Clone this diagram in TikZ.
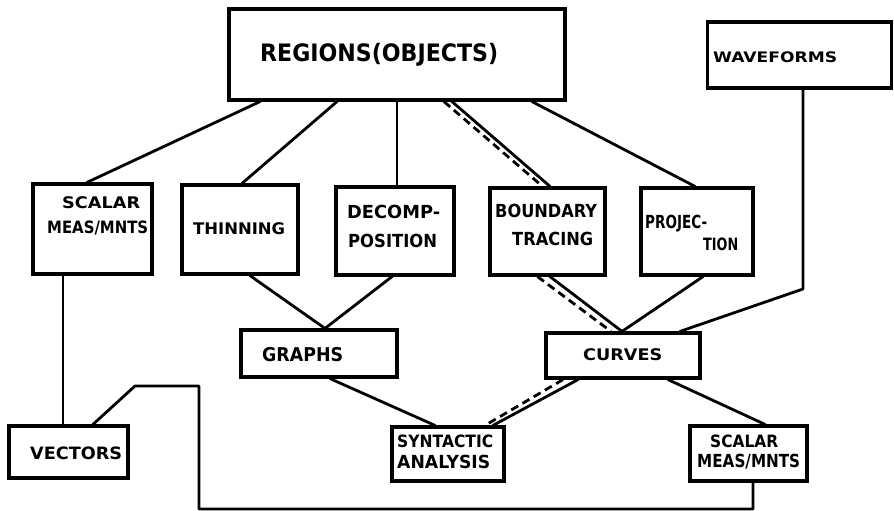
\documentclass[tikz,border=0pt]{standalone}
\usepackage{fontspec}
\setmainfont{DejaVu Sans}
\usepackage{graphicx}
\newcommand\hw[3]{{\fontsize{#2}{#2}\selectfont\bfseries\resizebox{#1}{\height}{#3}}}
\begin{document}
\begin{tikzpicture}[x=1pt,y=-1pt,
  box/.style={draw,line width=3.2pt,inner sep=0pt,rectangle},
  conn/.style={line width=2.8pt,line cap=round,line join=round},
  dconn/.style={line width=2.8pt,dash pattern=on 8pt off 5pt},
  lbl/.style={inner sep=0pt,anchor=base west}]
\useasboundingbox (0,0) rectangle (894,511);
% boxes
\node[box,minimum width=336pt,minimum height=91pt] (reg) at (397,54.5) {};
\node[box,minimum width=184pt,minimum height=66pt] (wav) at (799.5,55) {};
\node[box,minimum width=119pt,minimum height=90pt] (sc1) at (92.5,229) {};
\node[box,minimum width=116pt,minimum height=89pt] (thin) at (240,229.5) {};
\node[box,minimum width=118pt,minimum height=88pt] (dec) at (395,231) {};
\node[box,minimum width=115pt,minimum height=87pt] (bnd) at (547.5,231.5) {};
\node[box,minimum width=112pt,minimum height=87pt] (proj) at (697,231.5) {};
\node[box,minimum width=156pt,minimum height=47pt] (gr) at (319,353.5) {};
\node[box,minimum width=154pt,minimum height=45pt] (cur) at (623,355.5) {};
\node[box,minimum width=119pt,minimum height=52pt] (vec) at (68.5,452) {};
\node[box,minimum width=112pt,minimum height=54pt] (syn) at (448,454) {};
\node[box,minimum width=117pt,minimum height=55pt] (sc2) at (748.5,453.5) {};
% labels
\node[lbl] (t1) at (260,62) {\hw{238pt}{24pt}{REGIONS(OBJECTS)}};
\node[lbl] (t2) at (713,63) {\hw{124pt}{14.5pt}{WAVEFORMS}};
\node[lbl] (t3) at (62,208) {\hw{78pt}{16pt}{SCALAR}};
\node[lbl] (t4) at (47,233) {\hw{101pt}{17pt}{MEAS/MNTS}};
\node[lbl] (t5) at (193,234) {\hw{92pt}{16pt}{THINNING}};
\node[lbl] (t6) at (347,218) {\hw{93pt}{18pt}{DECOMP-}};
\node[lbl] (t7) at (348,247) {\hw{89pt}{18pt}{POSITION}};
\node[lbl] (t8) at (495,217) {\hw{102pt}{18pt}{BOUNDARY}};
\node[lbl] (t9) at (512,245) {\hw{81pt}{18pt}{TRACING}};
\node[lbl] (t10) at (645,228) {\hw{62pt}{18pt}{PROJEC-}};
\node[lbl] (t11) at (703,250) {\hw{35pt}{17pt}{TION}};
\node[lbl] (t12) at (262,361) {\hw{81pt}{19pt}{GRAPHS}};
\node[lbl] (t13) at (583,360) {\hw{79pt}{16pt}{CURVES}};
\node[lbl] (t14) at (30,459) {\hw{92pt}{17pt}{VECTORS}};
\node[lbl] (t15) at (397,447) {\hw{96pt}{17pt}{SYNTACTIC}};
\node[lbl] (t16) at (397,468) {\hw{93pt}{18pt}{ANALYSIS}};
\node[lbl] (t17) at (710,447) {\hw{68pt}{17pt}{SCALAR}};
\node[lbl] (t18) at (697,467) {\hw{103pt}{18pt}{MEAS/MNTS}};
% connectors
\draw[conn] ([xshift=-137pt]reg.south) -- ([xshift=-5.5pt]sc1.north);
\draw[conn] ([xshift=-60pt]reg.south) -- ([xshift=2pt]thin.north);
\draw[conn] (reg.south) -- (reg.south |- dec.north);
\draw[conn] ([xshift=55pt]reg.south) -- ([xshift=2.5pt]bnd.north);
\draw[dconn] ([xshift=47pt]reg.south) -- ([xshift=-5pt]bnd.north);
\draw[conn] ([xshift=135pt]reg.south) -- ([xshift=-2pt]proj.north);
\coordinate (w1) at (803,289);
\draw[conn] (wav.south -| w1) -- (w1) -- ([xshift=57pt]cur.north);
\draw[conn] ([xshift=-29.5pt]sc1.south) -- ([xshift=-29.5pt]sc1.south |- vec.north);
\draw[conn] ([xshift=10pt]thin.south) -- ([xshift=6pt]gr.north);
\draw[conn] ([xshift=-3pt]dec.south) -- ([xshift=6pt]gr.north);
\draw[conn] ([xshift=2.5pt]bnd.south) -- ([xshift=-1pt]cur.north);
\draw[dconn] ([xshift=-10pt]bnd.south) -- ([xshift=-12pt]cur.north);
\draw[conn] ([xshift=6pt]proj.south) -- ([xshift=-1pt]cur.north);
\draw[conn] ([xshift=11pt]gr.south) -- ([xshift=-13pt]syn.north);
\draw[conn] ([xshift=-45pt]cur.south) -- ([xshift=45pt]syn.north);
\draw[dconn] ([xshift=-60pt]cur.south) -- ([xshift=37pt]syn.north);
\draw[conn] ([xshift=45pt]cur.south) -- ([xshift=16.5pt]sc2.north);
\coordinate (v1) at (135,386);
\coordinate (v2) at (199,386);
\coordinate (v3) at (199,509);
\coordinate (v4) at (753,509);
\draw[conn] ([xshift=24.5pt]vec.north) -- (v1) -- (v2) -- (v3) -- (v4) -- (v4 |- sc2.south);
\end{tikzpicture}
\end{document}
